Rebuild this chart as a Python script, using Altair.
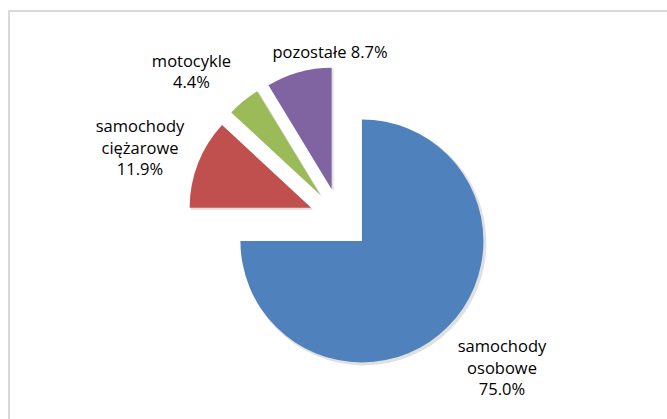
import altair as alt
import pandas as pd

# ---- data ----
categories = ["samochody osobowe", "samochody ciężarowe", "motocykle", "pozostałe"]
shares = [75.0, 11.9, 4.4, 8.7]
label_names = ["samochody\nosobowe", "samochody\nciężarowe", "motocykle", "pozostałe"]
label_sep = ["\n", "\n", "\n", " "]
colors = ["#4F81BD", "#C0504D", "#9BBB59", "#8064A2"]

# ---- layout ----
W, H = 667, 419
CX, CY = 340, 219
RADIUS = 121.5
EXPLODE = 31
# offsets of each label's first line from the pie centre
label_dx = [162, -200, -148.5, -10]
label_dy = [128, -92, -157.5, -166]

labels = [f"{n}{s}{v:.1f}%" for n, s, v in zip(label_names, label_sep, shares)]
df = pd.DataFrame({
    "order": list(range(len(categories))),
    "category": categories,
    "share": shares,
    "label": labels,
    "ldx": label_dx,
    "ldy": label_dy,
})

base = alt.Chart(df).transform_window(
    cum="sum(share)", sort=[alt.SortField("order")], frame=[None, 0]
).transform_joinaggregate(
    total="sum(share)"
).transform_calculate(
    t1="2*PI*datum.cum/datum.total",
    t0="2*PI*(datum.cum-datum.share)/datum.total",
).transform_calculate(
    mid="(datum.t0+datum.t1)/2"
).transform_calculate(
    cx=f"{CX}+{EXPLODE}*sin(datum.mid)",
    cy=f"{CY}-{EXPLODE}*cos(datum.mid)",
    lx=f"{CX}+datum.ldx",
    ly=f"{CY}+datum.ldy",
)

enc = dict(
    x=alt.X("cx:Q", scale=None, axis=None),
    y=alt.Y("cy:Q", scale=None, axis=None),
    theta=alt.Theta("t0:Q", scale=None, stack=False),
    theta2=alt.Theta2("t1:Q"),
)

shadow = base.mark_arc(radius=RADIUS + 1, fill="#000000", opacity=0.12, xOffset=2, yOffset=2).encode(**enc)

arcs = base.mark_arc(radius=RADIUS).encode(
    color=alt.Color("category:N", scale=alt.Scale(domain=categories, range=colors), legend=None),
    **enc,
)

text = base.mark_text(
    font="Open Sans", fontSize=16.5, color="#000000", lineBreak="\n",
    lineHeight=21.7, align="center", baseline="middle",
).encode(
    x=alt.X("lx:Q", scale=None, axis=None),
    y=alt.Y("ly:Q", scale=None, axis=None),
    text="label:N",
)

frame = alt.Chart(pd.DataFrame({"a": [0]})).mark_rect(
    fill="white", stroke="#D9D9D9", strokeWidth=2
).encode(
    x=alt.value(9), y=alt.value(11), x2=alt.value(W + 20), y2=alt.value(H + 20)
)

chart = alt.layer(frame, shadow, arcs, text).properties(
    width=W, height=H, padding=0, autosize=alt.AutoSizeParams(type="none"),
    background="white",
).configure_view(stroke=None)

chart.save("out.html", embed_options={"renderer": "svg", "actions": False})
